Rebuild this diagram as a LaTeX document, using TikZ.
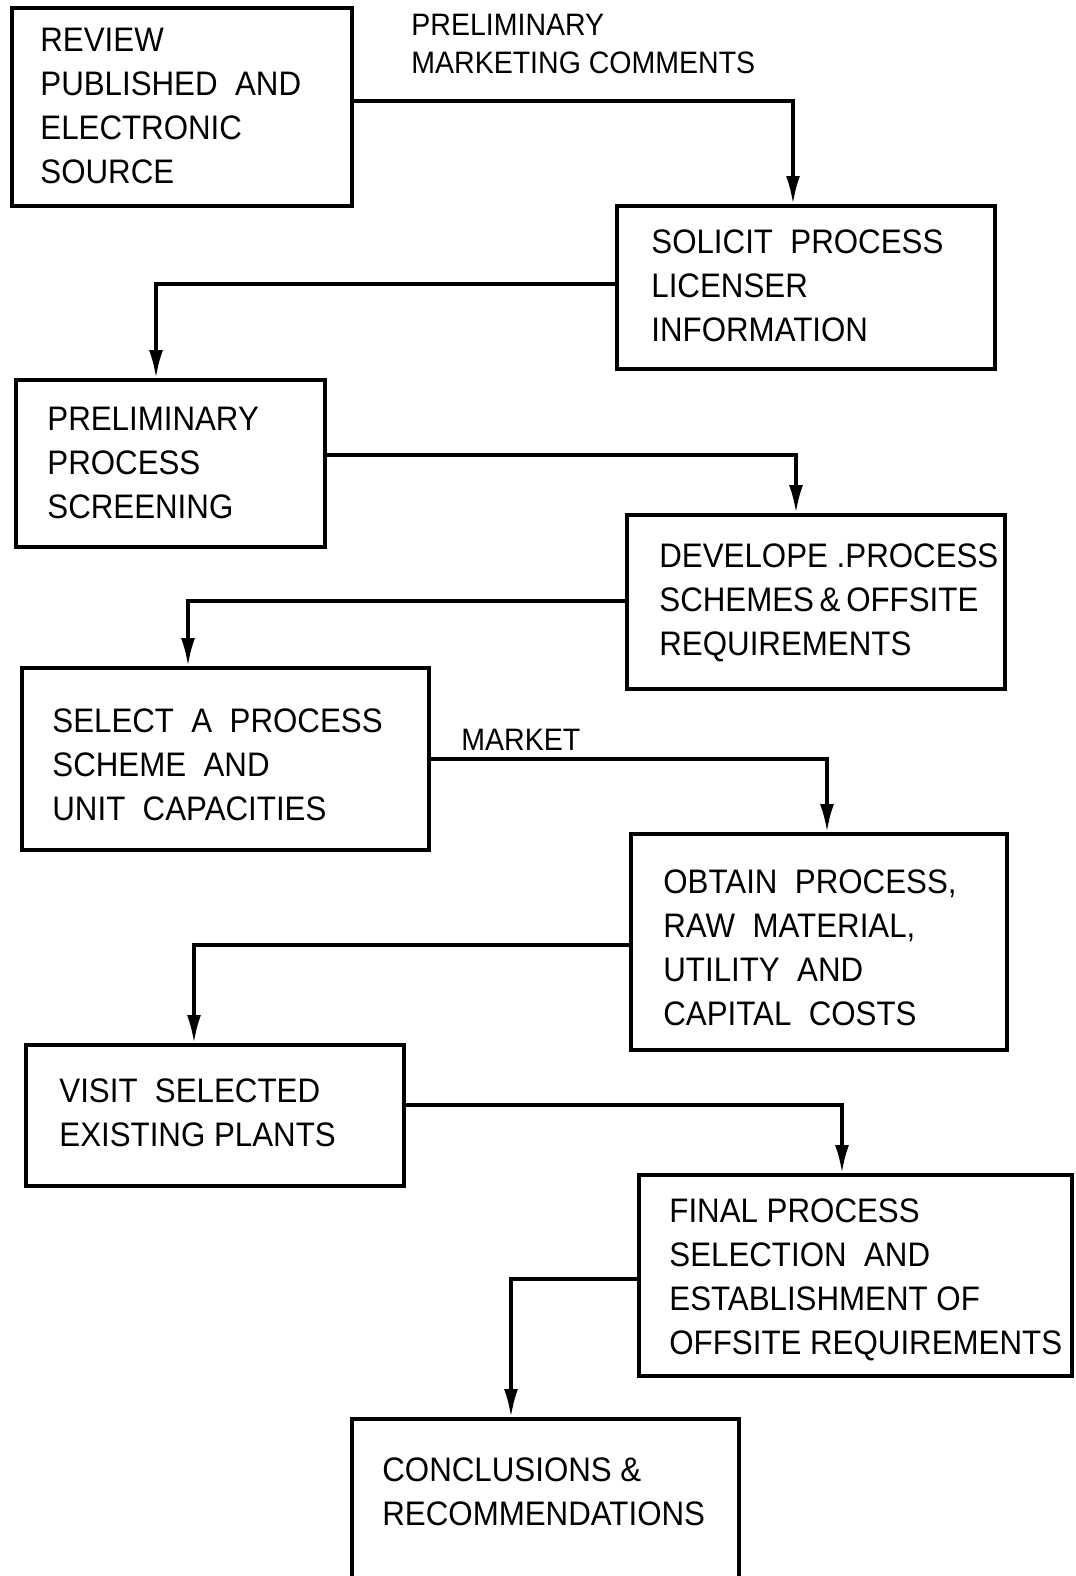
\documentclass[tikz,border=0pt]{standalone}
\usepackage{fontspec}
\setmainfont[FakeStretch=0.92]{Liberation Sans}
\usetikzlibrary{arrows.meta}
\tikzset{
  box/.style={draw=black, line width=2pt, rectangle, inner sep=0pt},
  txt/.style={inner sep=0pt, align=left, anchor=west, font=\fontsize{17}{22}\selectfont},
  lbl/.style={inner sep=0pt, align=left, anchor=west, font=\fontsize{15.5}{19}\selectfont},
  arr/.style={line width=1.6pt, -{Latex[length=14pt,width=7pt]}}
}
\begin{document}
\begin{tikzpicture}[x=0.5pt,y=-0.5pt]
\useasboundingbox (0,0) rectangle (1076,1576);
% boxes
\node[box, minimum width=170pt, minimum height=99pt] (b1) at (182,107) {};
\node[box, minimum width=189pt, minimum height=81.5pt] (b2) at (806,287.5) {};
\node[box, minimum width=154.5pt, minimum height=83.5pt] (b3) at (170.5,463.5) {};
\node[box, minimum width=189pt, minimum height=87pt] (b4) at (816,602) {};
\node[box, minimum width=203.5pt, minimum height=91pt] (b5) at (225.5,759) {};
\node[box, minimum width=188pt, minimum height=108pt] (b6) at (819,942) {};
\node[box, minimum width=189pt, minimum height=70.5pt] (b7) at (215,1115.5) {};
\node[box, minimum width=216.5pt, minimum height=100.5pt] (b8) at (855.5,1275.5) {};
\node[box, minimum width=193.5pt, minimum height=90.5pt] (b9) at (545.5,1509.5) {};
% texts
\node[txt] (t1) at (40,106) {REVIEW\\PUBLISHED\ \ AND\\ELECTRONIC\\SOURCE};
\node[txt] (t2) at (651,286) {SOLICIT\ \ PROCESS\\LICENSER\\INFORMATION};
\node[txt] (t3) at (47,463) {PRELIMINARY\\PROCESS\\SCREENING};
\node[txt] (t4) at (659,603) {DEVELOPE .PROCESS\\SCHEMES\,\&\,OFFSITE\\REQUIREMENTS};
\node[txt] (t5) at (52,765) {SELECT\ \ A\ \ PROCESS\\SCHEME\ \ AND\\UNIT\ \ CAPACITIES};
\node[txt] (t6) at (663,948) {OBTAIN\ \ PROCESS,\\RAW\ \ MATERIAL,\\UTILITY\ \ AND\\CAPITAL\ \ COSTS};
\node[txt] (t7) at (59,1113) {VISIT\ \ SELECTED\\EXISTING PLANTS};
\node[txt] (t8) at (669,1280) {FINAL PROCESS\\SELECTION\ \ AND\\ESTABLISHMENT OF\\OFFSITE REQUIREMENTS};
\node[txt] (t9) at (382,1492) {CONCLUSIONS \&\\RECOMMENDATIONS};
% labels
\node[lbl] (l1) at (411,44) {PRELIMINARY\\MARKETING COMMENTS};
\node[lbl] (l2) at (461,740) {MARKET};
% connectors
\draw[arr] ([yshift=3pt]b1.east) -| ([xshift=-6.5pt]b2.north);
\draw[arr] ([yshift=1.75pt]b2.west) -| ([xshift=-7.25pt]b3.north);
\draw[arr] ([yshift=4.25pt]b3.east) -| ([xshift=-10pt]b4.north);
\draw[arr] ([yshift=0.5pt]b4.west) -| ([xshift=-18.75pt]b5.north);
\draw[arr] (b5.east) -| ([xshift=4pt]b6.north);
\draw[arr] ([yshift=-1.5pt]b6.west) -| ([xshift=-10.5pt]b7.north);
\draw[arr] ([yshift=5.25pt]b7.east) -| ([xshift=-6.75pt]b8.north);
\draw[arr] ([yshift=-1.75pt]b8.west) -| ([xshift=-17.25pt]b9.north);
\end{tikzpicture}
\end{document}
